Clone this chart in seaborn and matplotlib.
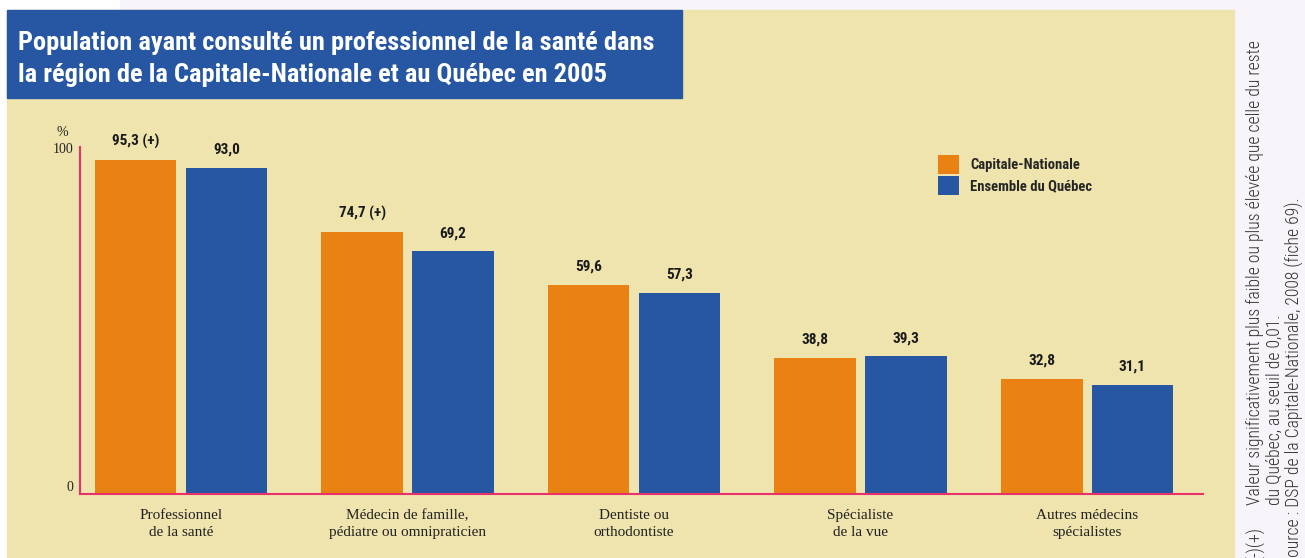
import matplotlib.pyplot as plt
import seaborn as sns
import pandas as pd
from matplotlib.patches import Rectangle

categories = ["Professionnel\nde la santé",
              "Médecin de famille,\npédiatre ou omnipraticien",
              "Dentiste ou\northodontiste",
              "Spécialiste\nde la vue",
              "Autres médecins\nspécialistes"]
series = ["Capitale-Nationale", "Ensemble du Québec"]
capitale = [95.3, 74.7, 59.6, 38.8, 32.8]
quebec = [93.0, 69.2, 57.3, 39.3, 31.1]
capitale_labels = ["95,3 (+)", "74,7 (+)", "59,6", "38,8", "32,8"]
quebec_labels = ["93,0", "69,2", "57,3", "39,3", "31,1"]

df = pd.DataFrame({
    "categorie": categories * 2,
    "region": [series[0]] * 5 + [series[1]] * 5,
    "valeur": capitale + quebec,
})

ORANGE = "#EA8213"
BLUE = "#2757A3"
BEIGE = "#EFE4AD"
LAVENDER = "#F7F5FA"
PINK = "#E8306A"
NARROW = ["Roboto Condensed", "Liberation Sans", "DejaVu Sans"]
SERIF = ["Liberation Serif", "DejaVu Serif"]

sns.set_style("white")
W, H = 1305, 558
fig = plt.figure(figsize=(W / 100, H / 100), dpi=100, facecolor="white")


def add_box(x0, y0, x1, y1, color, z):
    # pixel box (top-left origin) drawn in figure fractions
    fig.patches.append(Rectangle((x0 / W, 1 - y1 / H), (x1 - x0) / W, (y1 - y0) / H,
                                 transform=fig.transFigure, color=color, zorder=z))


add_box(120, 0, W, 10, LAVENDER, -3)
add_box(1234, 0, W, H, LAVENDER, -3)
add_box(7, 10, 1234, H, BEIGE, -2)
add_box(7, 10, 682, 98, BLUE, -1)

fig.text(18 / W, 1 - 43 / H, "Population ayant consulté un professionnel de la santé dans",
         color="white", fontsize=19, fontweight="bold", family=NARROW, va="center", ha="left")
fig.text(18 / W, 1 - 75 / H, "la région de la Capitale-Nationale et au Québec en 2005",
         color="white", fontsize=19, fontweight="bold", family=NARROW, va="center", ha="left")

ax = fig.add_axes((80 / W, 1 - 494 / H, (1203 - 80) / W, (494 - 143.4) / H))
ax.set_facecolor("none")
sns.barplot(data=df, x="categorie", y="valeur", hue="region", order=categories,
            hue_order=series, palette=[ORANGE, BLUE], width=0.8, gap=0.1,
            saturation=1, linewidth=0, edgecolor="none", ax=ax, legend=True)

ax.bar_label(ax.containers[0], labels=capitale_labels, padding=8, fontsize=11,
             fontweight="bold", family=NARROW, color="#1a1a1a")
ax.bar_label(ax.containers[1], labels=quebec_labels, padding=8, fontsize=11,
             fontweight="bold", family=NARROW, color="#1a1a1a")

ax.set_ylim(0, 100)
ax.set_xlim(-0.446, 4.512)
ax.set_yticks([0, 100])
ax.set_yticklabels(["0", "100"], family=SERIF, fontsize=10, color="#222222")
ylabels = ax.get_yticklabels()
ylabels[0].set_va("bottom")
ylabels[1].set_va("top")
ax.set_xticks(range(len(categories)))
ax.set_xticklabels(categories, family=SERIF, fontsize=11, color="#222222", linespacing=1.4)
ax.tick_params(axis="both", length=0)
ax.tick_params(axis="y", pad=5)
ax.tick_params(axis="x", pad=11)
ax.set_xlabel("")
ax.set_ylabel("")
ax.text(-0.016, 1.032, "%", transform=ax.transAxes, family=SERIF, fontsize=10,
        color="#222222", ha="center", va="center")

for side in ["top", "right"]:
    ax.spines[side].set_visible(False)
for side in ["left", "bottom"]:
    ax.spines[side].set_color(PINK)
    ax.spines[side].set_linewidth(1.5)
ax.spines["left"].set_bounds(0, 99)

leg = ax.legend(loc="upper left", bbox_to_anchor=(925 / W, 1 - 142 / H),
                bbox_transform=fig.transFigure, frameon=False,
                handlelength=1.4, handleheight=1.6, labelspacing=0.15,
                handletextpad=0.8, prop={"family": NARROW, "weight": "bold", "size": 10.5})

# vertical notes on the right
note_font = dict(family=NARROW, fontweight="light", fontsize=12.7, color="#333333",
                 rotation=90, ha="center", va="bottom")
fig.text(1255 / W, 1 - 505 / H,
         "Valeur significativement plus faible ou plus élevée que celle du reste", **note_font)
fig.text(1255 / W, 1 - 560 / H, "(-)(+)", **note_font)
fig.text(1275 / W, 1 - 505 / H, "du Québec, au seuil de 0,01.", **note_font)
fig.text(1294 / W, 1 - 566 / H, "Source : DSP de la Capitale-Nationale, 2008 (fiche 69).", **note_font)

fig.savefig("out.png", dpi=100, facecolor=fig.get_facecolor())
